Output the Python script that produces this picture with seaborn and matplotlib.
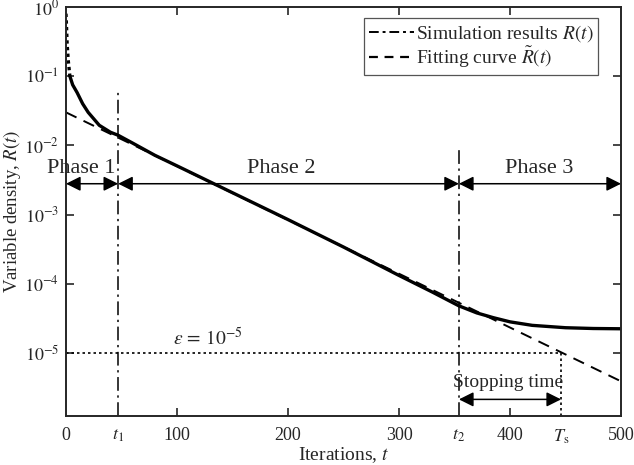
import numpy as np
import pandas as pd
import matplotlib
matplotlib.use("Agg")
import matplotlib.pyplot as plt
from matplotlib.lines import Line2D
from matplotlib.ticker import NullLocator
import seaborn as sns

# ---- data ----
sim_t = [0, 0.5, 1, 2, 3.5, 6, 10, 15, 20, 30, 40, 47, 60, 80, 100, 150, 200,
         250, 300, 330, 354, 370, 385, 400, 420, 450, 475, 500]
sim_R = [0.8, 0.5, 0.3, 0.17, 0.1, 0.075, 0.058, 0.04, 0.03, 0.0195, 0.0155,
         0.0140, 0.0108, 0.0072, 0.00506, 0.00207, 8.47e-4, 3.4e-4, 1.32e-4,
         7.6e-5, 4.8e-5, 3.8e-5, 3.24e-5, 2.82e-5, 2.51e-5, 2.32e-5, 2.26e-5,
         2.24e-5]
fit_t = [0, 500]
fit_R = [0.030, 3.9e-6]
t1, t2, Ts = 47, 354, 446
eps = 1e-5
x_ticks = [0, t1, 100, 200, 300, t2, 400, Ts, 500]
x_ticklabels = ["0", "$t_1$", "100", "200", "300", "$t_2$", "400",
                "$T_\\mathrm{s}$", "500"]
y_ticks = [1e0, 1e-1, 1e-2, 1e-3, 1e-4, 1e-5]
y_ticklabels = ["$10^{0}$", "$10^{-1}$", "$10^{-2}$", "$10^{-3}$",
                "$10^{-4}$", "$10^{-5}$"]
phase_labels = ["Phase 1", "Phase 2", "Phase 3"]

sns.set_style("ticks")
plt.rcParams["font.family"] = ["Liberation Serif", "DejaVu Serif"]
plt.rcParams["mathtext.fontset"] = "stix"

fig = plt.figure(figsize=(6.34, 4.65), dpi=100)
ax = fig.add_axes([0.1041, 0.1054, 0.8754, 0.8796])

sim = pd.DataFrame({"t": sim_t, "R": sim_R})
fit = pd.DataFrame({"t": fit_t, "R": fit_R})

sns.lineplot(data=sim[sim.t >= 3.5], x="t", y="R", ax=ax, color="black",
             lw=2.4, estimator=None, sort=False)
sns.lineplot(data=sim[sim.t <= 3.5], x="t", y="R", ax=ax, color="black",
             lw=2.4, ls=(0, (1, 1)), estimator=None, sort=False)
sns.lineplot(data=fit, x="t", y="R", ax=ax, color="black", lw=1.4,
             ls=(0, (6, 4)), estimator=None)

ax.set_yscale("log")
ax.set_xlim(0, 500)
ax.set_ylim(10 ** -5.91, 1.0)

# vertical phase boundaries
dd = (0, (9, 3, 1.5, 3))
ax.plot([t1, t1], [10 ** -5.91, 0.063], color="black", lw=1.1, ls=dd)
ax.plot([t2, t2], [10 ** -5.91, 0.0087], color="black", lw=1.1, ls=dd)

# epsilon threshold
ax.plot([0, Ts], [eps, eps], color="black", lw=1.2, ls=(0, (1.5, 1.8)))
ax.plot([Ts, Ts], [10 ** -5.91, eps], color="black", lw=1.2, ls=(0, (1.5, 1.8)))
ax.text(128, eps * 1.12, "$\\epsilon\\,=\\,10^{-5}$", ha="center", va="bottom",
        fontsize=14)

# phase arrows
ya = 10 ** -2.554
arr = dict(arrowstyle="<|-|>", color="black", lw=1.1, mutation_scale=22,
           shrinkA=0, shrinkB=0)
for (a, b) in [(0, t1), (t1, t2), (t2, 500)]:
    ax.annotate("", xy=(b, ya), xytext=(a, ya), arrowprops=arr)
for lab, xc in zip(phase_labels, [14, 194, 426]):
    ax.text(xc, 10 ** -2.33, lab, ha="center", va="center", fontsize=16,
            clip_on=False)

# stopping time
ys = 10 ** -5.67
ax.annotate("", xy=(Ts, ys), xytext=(t2, ys), arrowprops=arr)
ax.text(398, 10 ** -5.42, "Stopping time", ha="center", va="center",
        fontsize=14)

# ticks
ax.set_xticks(x_ticks)
ax.set_xticklabels(x_ticklabels)
ax.set_yticks(y_ticks)
ax.set_yticklabels(y_ticklabels)
ax.yaxis.set_minor_locator(NullLocator())
ax.tick_params(direction="in", top=True, right=True, length=6, width=1.2,
               labelsize=13)
ax.tick_params(axis="x", pad=8)
ax.tick_params(axis="y", pad=5)
for tick, v in zip(ax.xaxis.get_major_ticks(), x_ticks):
    if v in (0, t1, t2, Ts, 500):
        tick.tick1line.set_visible(False)
        tick.tick2line.set_visible(False)
for tick in ax.yaxis.get_major_ticks()[:1]:
    tick.tick1line.set_visible(False)
    tick.tick2line.set_visible(False)
for s in ax.spines.values():
    s.set_linewidth(1.4)

ax.set_xlabel("Iterations, $t$", fontsize=14, labelpad=0)
ax.set_ylabel("Variable density, $R(t)$", fontsize=13.5, labelpad=1)

handles = [Line2D([], [], color="black", lw=1.4, ls=(0, (5, 2, 1.5, 2))),
           Line2D([], [], color="black", lw=1.6, ls=(0, (4, 3)))]
labels = ["Simulation results $R(t)$", "Fitting curve $\\tilde{R}(t)$"]
leg = ax.legend(handles, labels, loc="upper right",
                bbox_to_anchor=(0.9586, 0.973), fontsize=14, frameon=True,
                fancybox=False, edgecolor="#555555", framealpha=1,
                handlelength=2.3, handletextpad=0.1, borderpad=0.25,
                labelspacing=0.05, borderaxespad=0)
leg.get_frame().set_linewidth(0.9)

fig.savefig("out.png", dpi=100)
